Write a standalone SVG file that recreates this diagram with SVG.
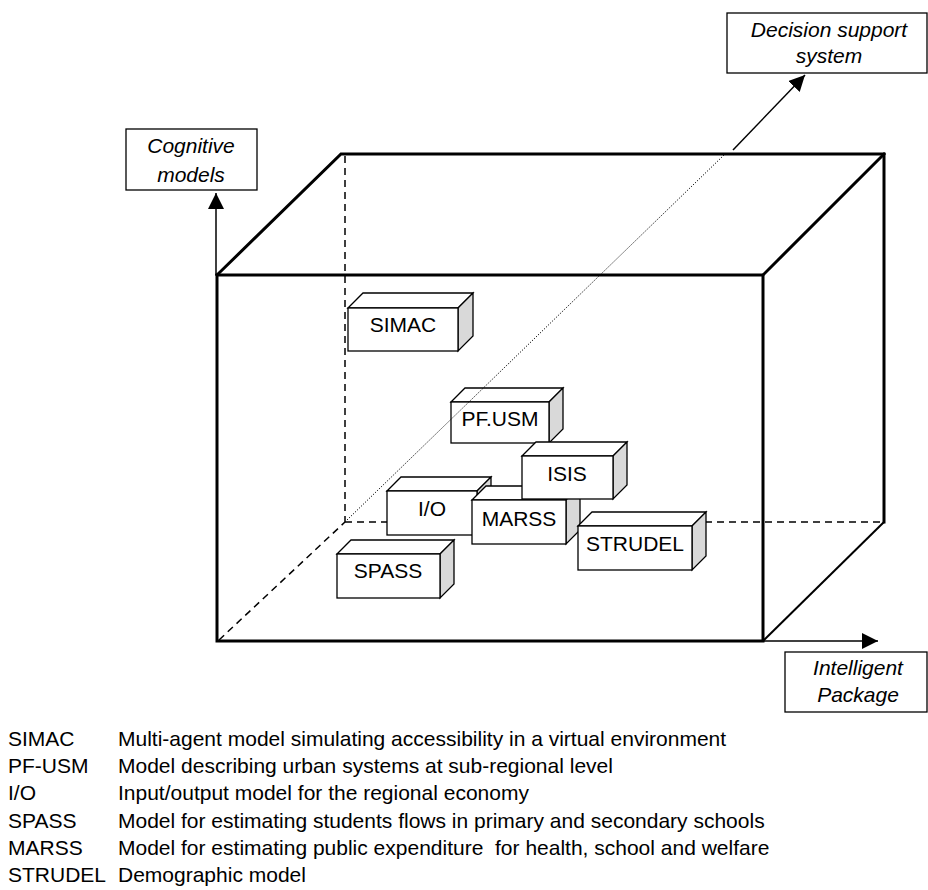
<svg xmlns="http://www.w3.org/2000/svg" width="928" height="890" viewBox="0 0 928 890">
  <style>
    text { font-family: "Liberation Sans", Arial, sans-serif; fill: #000; }
    .lbl { font-size: 21px; text-anchor: middle; }
    .axis { font-size: 21px; font-style: italic; text-anchor: middle; }
    .legend { font-size: 21px; }
    .frame { fill: #fff; stroke: #000; stroke-width: 1.3; }
    .face { fill: #fff; stroke: #000; stroke-width: 1.3; stroke-linejoin: miter; }
    .side { fill: #d9d9d9; stroke: #000; stroke-width: 1.3; }
    .edge { fill: none; stroke: #000; stroke-width: 3; stroke-linecap: square; }
    .edge-thin { fill: none; stroke: #000; stroke-width: 2; }
    .hidden { fill: none; stroke: #000; stroke-width: 1.5; stroke-dasharray: 7 5; }
    .dotted { fill: none; stroke: #000; stroke-width: 1; stroke-dasharray: 1.2 1.6; }
    .conn { fill: none; stroke: #000; stroke-width: 1.5; }
  </style>
  <defs>
    <marker id="head" markerUnits="userSpaceOnUse" markerWidth="18" markerHeight="18" refX="16" refY="8" orient="auto">
      <path d="M0,0 L16,8 L0,16 z" fill="#000"/>
    </marker>
  </defs>

  <!-- hidden (back) edges of the cube -->
  <g id="cube-hidden">
    <line class="hidden" x1="345" y1="156" x2="345" y2="522"/>
    <line class="hidden" x1="345" y1="522" x2="884" y2="522"/>
    <line class="hidden" x1="219" y1="640" x2="345" y2="522"/>
  </g>

  <!-- visible cube edges -->
  <g id="cube">
    <rect class="edge" x="217" y="275" width="546" height="366"/>
    <polyline class="edge" points="217,275 341,154 884,154 884,522"/>
    <line class="edge" x1="763" y1="275" x2="884" y2="154"/>
    <line class="edge-thin" x1="763" y1="641" x2="884" y2="522"/>
  </g>

  <!-- model blocks -->
  <g id="simac">
    <polygon class="face" points="348,308 363,293 473,293 458,308"/>
    <polygon class="side" points="458,308 473,293 473,336 458,351"/>
    <rect class="face" x="348" y="308" width="110" height="43"/>
    <text class="lbl" x="403" y="332">SIMAC</text>
  </g>
  <g id="pfusm">
    <polygon class="face" points="451,402 465,388 563,388 549,402"/>
    <polygon class="side" points="549,402 563,388 563,429 549,443"/>
    <rect class="face" x="451" y="402" width="98" height="41"/>
    <text class="lbl" x="500" y="426">PF.USM</text>
  </g>
  <g id="io">
    <polygon class="face" points="387,491 401,477 491,477 477,491"/>
    <polygon class="side" points="477,491 491,477 491,521 477,535"/>
    <rect class="face" x="387" y="491" width="90" height="44"/>
    <text class="lbl" x="432" y="516">I/O</text>
  </g>
  <g id="marss">
    <polygon class="face" points="472,500 486,486 580,486 566,500"/>
    <polygon class="side" points="566,500 580,486 580,530 566,544"/>
    <rect class="face" x="472" y="500" width="94" height="44"/>
    <text class="lbl" x="519" y="526">MARSS</text>
  </g>
  <g id="isis">
    <polygon class="face" points="522,456 536,442 627,442 613,456"/>
    <polygon class="side" points="613,456 627,442 627,485 613,499"/>
    <rect class="face" x="522" y="456" width="91" height="43"/>
    <text class="lbl" x="567" y="481">ISIS</text>
  </g>
  <g id="strudel">
    <polygon class="face" points="578,526 592,512 706,512 692,526"/>
    <polygon class="side" points="692,526 706,512 706,556 692,570"/>
    <rect class="face" x="578" y="526" width="114" height="44"/>
    <text class="lbl" x="635" y="551">STRUDEL</text>
  </g>
  <g id="spass">
    <polygon class="face" points="337,554 351,540 454,540 440,554"/>
    <polygon class="side" points="440,554 454,540 454,584 440,598"/>
    <rect class="face" x="337" y="554" width="103" height="44"/>
    <text class="lbl" x="388" y="578">SPASS</text>
  </g>

  <!-- axis labels -->
  <g id="cognitive-models">
    <rect class="frame" x="126" y="129" width="131" height="61"/>
    <text class="axis" x="191" y="153">Cognitive</text>
    <text class="axis" x="191" y="182">models</text>
  </g>
  <g id="decision-support-system">
    <rect class="frame" x="727" y="13" width="200" height="60"/>
    <text class="axis" x="829" y="37">Decision support</text>
    <text class="axis" x="829" y="63">system</text>
  </g>
  <g id="intelligent-package">
    <rect class="frame" x="785" y="652" width="142" height="60"/>
    <text class="axis" x="858" y="675">Intelligent</text>
    <text class="axis" x="858" y="702">Package</text>
  </g>

  <!-- connectors -->
  <g id="connectors">
    <line class="dotted" x1="347" y1="520" x2="724" y2="155"/>
    <line class="conn" x1="733" y1="150" x2="805" y2="75" marker-end="url(#head)"/>
    <line class="conn" x1="216" y1="275" x2="216" y2="193" marker-end="url(#head)"/>
    <line class="conn" x1="763" y1="641" x2="878" y2="641" marker-end="url(#head)"/>
  </g>

  <!-- legend -->
  <g id="legend" class="legend">
    <text x="8" y="746">SIMAC</text>
    <text x="118" y="746">Multi-agent model simulating accessibility in a virtual environment</text>
    <text x="8" y="773">PF-USM</text>
    <text x="118" y="773">Model describing urban systems at sub-regional level</text>
    <text x="8" y="800">I/O</text>
    <text x="118" y="800">Input/output model for the regional economy</text>
    <text x="8" y="828">SPASS</text>
    <text x="118" y="828">Model for estimating students flows in primary and secondary schools</text>
    <text x="8" y="855">MARSS</text>
    <text x="118" y="855" xml:space="preserve">Model for estimating public expenditure  for health, school and welfare</text>
    <text x="8" y="882">STRUDEL</text>
    <text x="118" y="882">Demographic model</text>
  </g>
</svg>
